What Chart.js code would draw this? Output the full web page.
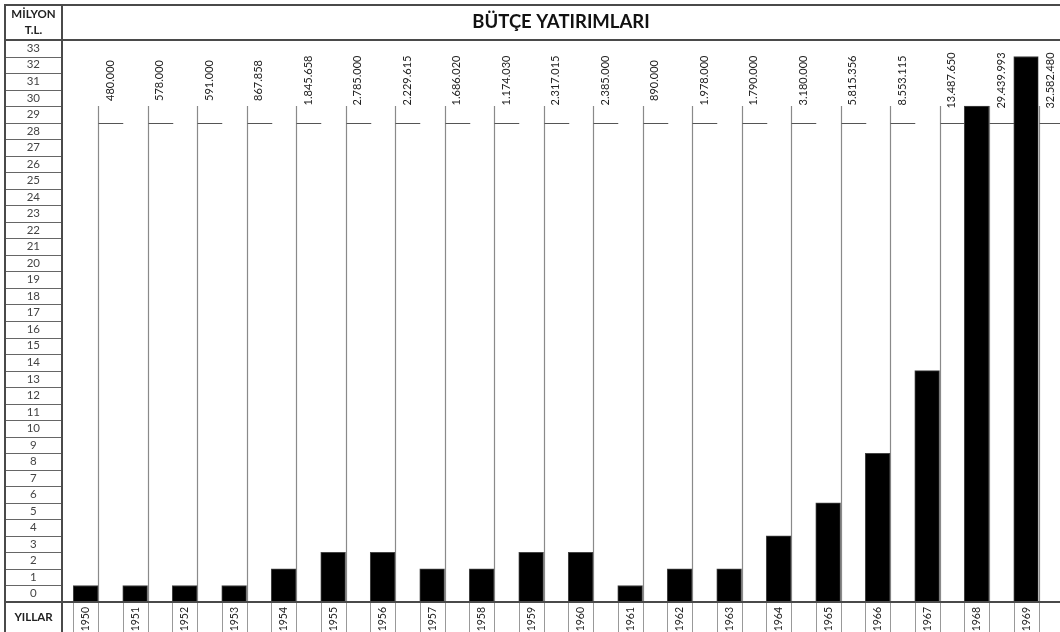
<!DOCTYPE html>
<html lang="tr">
<head>
<meta charset="utf-8">
<title>Bütçe Yatırımları</title>
<script src="https://cdn.jsdelivr.net/npm/chart.js@4.4.0/dist/chart.umd.min.js"></script>
<style>
  body { margin: 0; background: #fff; }
  #kutu { width: 1060px; height: 632px; position: relative; }
</style>
</head>
<body>
<div id="kutu"><canvas id="grafik"></canvas></div>
<script>
// yillar ve bar yukseklikleri (milyon TL, grafikte yukari yuvarlanmis)
var yillar = ['1950', '1951', '1952', '1953', '1954', '1955', '1956', '1957', '1958', '1959',
  '1960', '1961', '1962', '1963', '1964', '1965', '1966', '1967', '1968', '1969'];
var degerler = [1, 1, 1, 1, 2, 3, 3, 2, 2, 3, 3, 1, 2, 2, 4, 6, 9, 14, 30, 33];

// her sutunun ustundeki yazili tutarlar (bin TL)
var etiketler = ['480.000', '578.000', '591.000', '867.858', '1.845.658', '2.785.000', '2.229.615',
  '1.686.020', '1.174.030', '2.317.015', '2.385.000', '890.000', '1.978.000', '1.790.000',
  '3.180.000', '5.815.356', '8.553.115', '13.487.650', '29.439.993', '32.582.480'];

var yTicks = [0, 1, 2, 3, 4, 5, 6, 7, 8, 9, 10, 11, 12, 13, 14, 15, 16, 17, 18, 19, 20,
  21, 22, 23, 24, 25, 26, 27, 28, 29, 30, 31, 32, 33];

var baslik = 'BÜTÇE YATIRIMLARI';
var birim = ['MİLYON', 'T.L.'];
var eksenYillar = 'YILLAR';

var fonte = 'Lato, "Open Sans", sans-serif';

function linha(ctx, x1, y1, x2, y2) {
  ctx.beginPath();
  ctx.moveTo(x1, y1);
  ctx.lineTo(x2, y2);
  ctx.stroke();
}

// cizgiler ve tablo cercevesi
const tabela = {
  id: 'tabela',
  beforeDatasetsDraw(chart) {
    const { ctx, chartArea, scales } = chart;
    const x = scales.x, y = scales.y;
    const colW = x.getPixelForValue(1) - x.getPixelForValue(0);
    ctx.save();
    yillar.forEach((ano, i) => {
      const xr = Math.round(x.getPixelForValue(i) + colW / 2) + 0.5;
      ctx.strokeStyle = '#8a8a8a';
      ctx.lineWidth = 1.2;
      linha(ctx, xr, y.getPixelForValue(30), xr, chartArea.bottom);
      const yt = Math.round(y.getPixelForValue(29)) + 0.5;
      ctx.strokeStyle = '#555';
      ctx.lineWidth = 1;
      linha(ctx, xr, yt, xr + colW / 2, yt);
    });
    ctx.restore();
  },
  afterDraw(chart) {
    const { ctx, chartArea, scales, width, height } = chart;
    const x = scales.x, y = scales.y;
    const colW = x.getPixelForValue(1) - x.getPixelForValue(0);
    const esq = 5, dir = 62;
    ctx.save();

    // sol sutun satir cizgileri
    ctx.strokeStyle = '#666';
    ctx.lineWidth = 1;
    yTicks.forEach(v => {
      if (v == 0) return;
      const py = Math.round(y.getPixelForValue(v)) + 0.5;
      linha(ctx, esq, py, dir, py);
    });

    // yil kutulari
    ctx.strokeStyle = '#999';
    yillar.forEach((ano, i) => {
      const xr = Math.round(x.getPixelForValue(i) + colW / 2) + 0.5;
      const xl = Math.round(x.getPixelForValue(i)) + 0.5;
      linha(ctx, xl, chartArea.bottom, xl, height);
      linha(ctx, xr, chartArea.bottom, xr, height);
    });

    // tutar yazilari
    ctx.fillStyle = '#222';
    ctx.font = '11px ' + fonte;
    ctx.textAlign = 'center';
    ctx.textBaseline = 'middle';
    etiketler.forEach((txt, i) => {
      const xr = x.getPixelForValue(i) + colW / 2;
      ctx.save();
      ctx.translate(xr + colW / 4, y.getPixelForValue(31.55));
      ctx.rotate(-Math.PI / 2);
      ctx.fillText(txt, 0, 0);
      ctx.restore();
    });

    // dis cerceve
    ctx.strokeStyle = '#4a4a4a';
    ctx.lineWidth = 2;
    linha(ctx, esq, 5, width, 5);
    linha(ctx, esq, chartArea.top, width, chartArea.top);
    linha(ctx, esq, chartArea.bottom, width, chartArea.bottom);
    linha(ctx, esq, 4, esq, height);
    linha(ctx, dir, 4, dir, height);

    // basliklar
    ctx.fillStyle = '#111';
    ctx.font = 'bold 18.5px ' + fonte;
    ctx.fillText(baslik, (dir + width) / 2, 22);
    ctx.font = 'bold 11.5px ' + fonte;
    ctx.fillStyle = '#222';
    ctx.fillText(birim[0], (esq + dir) / 2, 14);
    ctx.fillText(birim[1], (esq + dir) / 2, 30);
    ctx.font = 'bold 11.5px ' + fonte;
    ctx.fillText(eksenYillar, (esq + dir) / 2, (chartArea.bottom + height) / 2);
    ctx.restore();
  }
};

const ctx = document.getElementById('grafik');

new Chart(ctx, {
  type: 'bar',
  data: {
    labels: yillar,
    datasets: [
      {
        // bos sutun yarisi
        label: '',
        data: yillar.map(() => null),
      },
      {
        label: baslik,
        data: degerler,
        backgroundColor: '#000',
        borderColor: '#444',
        borderWidth: 1,
      },
    ],
  },
  options: {
    responsive: true,
    maintainAspectRatio: false,
    animation: false,
    layout: { padding: { top: 40, right: 21.5, left: 0, bottom: 0 } },
    datasets: { bar: { barPercentage: 1, categoryPercentage: 1 } },
    plugins: {
      legend: { display: false },
      tooltip: { enabled: false },
      title: { display: false },
    },
    scales: {
      x: {
        type: 'category',
        offset: true,
        grid: { display: false, drawTicks: false },
        border: { display: false },
        ticks: {
          autoSkip: false,
          minRotation: 90,
          maxRotation: 90,
          labelOffset: 12.4,
          padding: 5,
          color: '#222',
          font: { family: fonte, size: 10.5 },
        },
        afterFit: (s) => { s.height = 30; },
      },
      y: {
        min: 0,
        max: 34,
        grid: { display: false, drawTicks: false },
        border: { display: false },
        afterBuildTicks: (s) => { s.ticks = yTicks.map(v => ({ value: v + 0.5 })); },
        ticks: {
          autoSkip: false,
          crossAlign: 'center',
          padding: 8.5,
          color: '#444',
          font: { family: fonte, size: 11.5 },
          callback: (val, i) => yTicks[i],
        },
        afterFit: (s) => { s.width = 48.5; },
      },
    },
  },
  plugins: [tabela],
});
</script>
</body>
</html>
